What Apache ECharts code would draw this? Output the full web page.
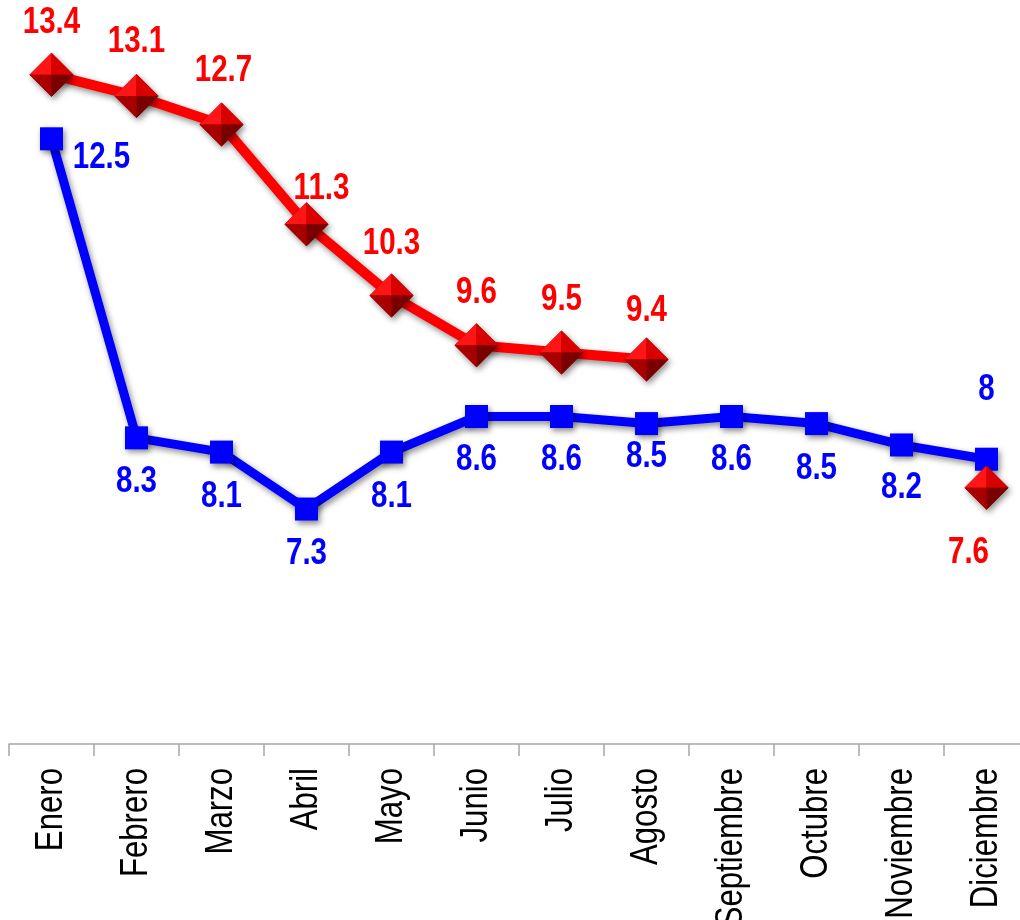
<!DOCTYPE html>
<html>
<head>
<meta charset="utf-8">
<style>
  html, body { margin: 0; padding: 0; background: #fff; }
  #main { width: 1020px; height: 920px; }
</style>
<script src="https://cdn.jsdelivr.net/npm/echarts@6/dist/echarts.min.js"></script>
</head>
<body>
<div id="main"></div>
<script>
// datos
var meses = ['Enero', 'Febrero', 'Marzo', 'Abril', 'Mayo', 'Junio', 'Julio', 'Agosto', 'Septiembre', 'Octubre', 'Noviembre', 'Diciembre']
var serieAzul = [12.5, 8.3, 8.1, 7.3, 8.1, 8.6, 8.6, 8.5, 8.6, 8.5, 8.2, 8]
var serieRoja = [13.4, 13.1, 12.7, 11.3, 10.3, 9.6, 9.5, 9.4, null, null, null, 7.6]
var yMin = 4
var yMax = 14

// desplazamiento de etiquetas (como en el original, colocadas a mano)
var offAzul = [[50, 19], [0, 44], [0, 45], [0, 45], [0, 45], [0, 44], [0, 44], [0, 33], [0, 44], [0, 45], [0, 43], [0, -69]]
var offRoja = [[0, -52], [0, -54], [2, -53], [15, -35], [0, -51], [0, -52], [0, -52], [0, -48], null, null, null, [-18, 65]]

var sombra = { shadowBlur: 6, shadowColor: 'rgba(0,0,0,0.45)', shadowOffsetX: 2, shadowOffsetY: 3 }
// Arial Narrow no existe aqui: Liberation Sans comprimida en horizontal
var estrecho = 0.82

function puntos(vals) {
  return vals.map(function (v, i) { return v == null ? null : [i, v] }).filter(Boolean)
}

function etiquetas(vals, offs, color) {
  return {
    type: 'custom',
    silent: true,
    clip: false,
    z: 6,
    data: puntos(vals),
    renderItem: function (params, api) {
      var i = api.value(0)
      var c = api.coord([i, api.value(1)])
      var o = offs[i]
      return {
        type: 'text',
        x: c[0] + o[0],
        y: c[1] + o[1],
        scaleX: estrecho,
        style: {
          text: String(api.value(1)),
          fill: color,
          font: 'bold 36px "Liberation Sans", Arial, sans-serif',
          align: 'center',
          verticalAlign: 'middle'
        }
      }
    }
  }
}

var myChart = echarts.init(document.getElementById('main'))
myChart.setOption({
  animation: false,
  grid: { left: 9, width: 1020, top: 32, bottom: 176, outerBoundsMode: 'none', containLabel: false },
  xAxis: {
    type: 'category',
    data: meses,
    axisLine: { lineStyle: { color: '#a6a6a6', width: 1.5 } },
    axisTick: { show: true, length: 12, lineStyle: { color: '#a6a6a6', width: 1.5 } },
    axisLabel: { show: false }
  },
  yAxis: {
    type: 'value', min: yMin, max: yMax, show: false,
    splitLine: { show: false }
  },
  series: [{
    name: 'azul',
    type: 'line',
    data: serieAzul,
    symbol: 'rect',
    symbolSize: 23,
    lineStyle: Object.assign({ color: '#0000ff', width: 9 }, sombra),
    itemStyle: Object.assign({ color: '#0000ff' }, sombra),
    z: 2
  }, {
    name: 'roja',
    type: 'line',
    data: serieRoja,
    connectNulls: false,
    symbol: 'diamond',
    symbolSize: 44,
    lineStyle: Object.assign({ color: '#ff0000', width: 10 }, sombra),
    itemStyle: Object.assign({ color: '#b00000' }, sombra),
    z: 3
  }, {
    // caras del rombo con efecto 3D
    name: 'rombos',
    type: 'custom',
    silent: true,
    z: 4,
    data: puntos(serieRoja),
    renderItem: function (params, api) {
      var c = api.coord([api.value(0), api.value(1)])
      var x = c[0], y = c[1], h = 22
      function cara(pts, col) {
        return { type: 'polygon', shape: { points: pts }, style: { fill: col } }
      }
      return {
        type: 'group',
        children: [
          cara([[x - h, y], [x, y - h], [x, y]], '#ff1515'),
          cara([[x, y - h], [x + h, y], [x, y]], '#d80000'),
          cara([[x - h, y], [x, y + h], [x, y]], '#a80000'),
          cara([[x, y], [x + h, y], [x, y + h]], '#780000')
        ]
      }
    }
  }, {
    // rotulos de meses, verticales y estrechos
    name: 'meses',
    type: 'custom',
    silent: true,
    clip: false,
    z: 5,
    data: meses.map(function (m, i) { return [i] }),
    renderItem: function (params, api) {
      var i = params.dataIndex
      var c = api.coord([i, yMin])
      return {
        type: 'text',
        x: c[0],
        y: c[1] + 24,
        rotation: Math.PI / 2,
        scaleX: estrecho,
        style: {
          text: meses[i],
          fill: '#000',
          font: '38px "Liberation Sans", Arial, sans-serif',
          align: 'right',
          verticalAlign: 'middle'
        }
      }
    }
  },
  etiquetas(serieAzul, offAzul, '#0000ff'),
  etiquetas(serieRoja, offRoja, '#ff0000')]
})
window.addEventListener('resize', function () { myChart.resize() })
</script>
</body>
</html>
